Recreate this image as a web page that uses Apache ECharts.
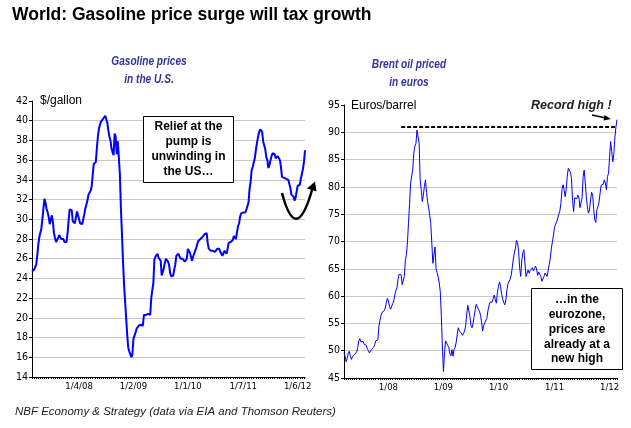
<!DOCTYPE html>
<html><head><meta charset="utf-8">
<script src="https://cdn.jsdelivr.net/npm/echarts@6/dist/echarts.min.js"></script>
<style>html,body{margin:0;padding:0;background:#fff}#c{width:631px;height:428px}</style>
</head><body><div id="c"></div>
<script>
const chartTitle = 'World: Gasoline price surge will tax growth';
const gasTitle = 'Gasoline prices\nin the U.S.';
const brentTitle = 'Brent oil priced\nin euros';
const gasUnit = '$/gallon';
const brentUnit = 'Euros/barrel';
const footerText = 'NBF Economy & Strategy (data via EIA and Thomson Reuters)';
const gasNote = 'Relief at the\npump is\nunwinding in\nthe US\u2026';
const brentNote = '\u2026in the\neurozone,\nprices are\nalready at a\nnew high';
const recordText = 'Record high !';

// Gasoline: weekly (Fridays) starting this date
const gasFirstWeek = '2007-02-23';
const gasValues = [24.7,24.8,24.9,25.1,25.4,26.3,27.4,28.2,28.3,29.1,
30.1,31.2,32.1,31.6,31.0,30.7,30.2,29.5,29.4,30.4,
29.7,28.6,28.1,27.7,27.6,28.1,28.4,28.3,28.0,28.2,
28.0,27.7,27.5,27.7,28.6,29.9,31.0,30.9,30.9,29.8,
29.6,29.6,30.2,30.8,30.7,30.0,29.6,29.5,29.5,29.6,
30.5,31.1,31.2,31.9,32.5,32.6,32.9,33.3,33.4,35.6,
35.7,35.8,37.2,38.4,39.2,39.6,39.9,40.1,40.2,40.4,
40.5,40.3,39.8,39.0,38.4,38.0,37.2,36.8,36.5,38.7,
38.4,36.6,37.9,36.3,34.6,31.1,28.5,25.8,23.4,21.7,
20.0,18.3,17.0,16.6,16.5,16.0,16.3,17.9,18.2,18.5,
18.9,19.1,19.2,19.1,19.3,19.2,19.2,20.3,20.4,20.3,
20.3,20.4,20.3,20.3,22.0,22.8,23.5,25.9,26.2,26.3,
26.5,26.1,25.9,25.8,24.3,24.5,25.0,25.6,26.0,25.9,
25.7,25.4,24.6,24.2,24.0,24.3,24.9,25.4,26.3,26.5,
26.5,26.3,26.0,26.0,26.0,26.0,25.7,25.7,26.0,27.0,
26.8,26.6,26.2,25.8,26.2,26.5,26.7,27.1,27.5,27.8,
27.9,28.0,28.0,28.2,28.4,28.5,28.7,28.6,27.6,27.0,
26.8,26.8,26.7,26.8,26.7,26.7,26.8,27.0,27.2,27.0,
26.7,26.6,26.3,26.5,26.8,26.6,26.5,27.0,27.6,27.7,
27.7,27.6,27.9,28.3,28.5,28.0,28.7,29.3,29.6,30.3,
30.6,30.6,30.7,30.7,30.7,31.0,31.2,31.7,33.1,33.8,
35.0,35.3,35.4,36.2,37.0,37.7,38.3,38.8,39.1,39.2,
38.9,37.9,37.7,37.1,36.3,36.0,35.2,35.5,36.0,36.4,
36.7,36.8,36.6,36.2,36.0,36.4,36.3,36.0,35.3,34.3,
34.1,34.2,34.2,34.1,34.0,34.0,34.0,33.2,32.5,32.3,
32.3,31.9,32.2,32.8,33.4,33.4,33.5,34.1,34.6,35.1,
35.8,37.0];
const gasTickLabels = ['1/4/08','1/2/09','1/1/10','1/7/11','1/6/12'];
const gasYTicks = {min: 14, max: 42, step: 2};

// Brent in euros: weekly (Fridays) starting this date
const brentFirstWeek = '2007-03-16';
const brentValues = [49.6,49.0,48.0,48.6,49.5,49.9,49.0,48.4,48.9,49.0,
49.3,49.5,49.8,50.6,51.8,52.2,51.6,51.4,51.7,51.2,
51.1,51.0,50.4,50.0,49.6,49.8,50.2,50.4,50.6,51.1,
51.8,52.0,52.0,54.5,55.5,56.5,57.0,57.2,57.3,57.8,
58.9,59.6,59.1,58.1,57.6,57.9,58.6,59.1,60.2,61.0,
61.5,63.0,64.0,64.1,63.9,62.1,61.8,63.6,66.5,67.6,
70.0,73.5,77.0,80.8,82.0,83.3,86.2,87.5,88.0,90.4,
90.7,88.0,81.3,79.5,77.3,78.5,80.1,81.3,79.0,77.3,
76.2,74.8,73.3,69.7,66.0,67.5,69.0,65.0,64.3,63.5,
62.4,60.8,56.3,50.5,46.2,49.6,51.8,51.5,51.0,50.6,
49.5,49.1,50.2,49.0,50.2,50.6,51.5,53.0,54.2,53.6,
53.6,53.2,52.8,53.2,53.6,54.6,56.7,58.3,58.2,56.3,
54.6,54.2,55.0,56.3,57.5,58.5,58.2,57.6,57.2,56.5,
55.3,53.6,54.6,55.1,55.1,55.9,57.3,58.2,58.9,59.1,
58.9,59.5,60.2,59.3,58.7,60.7,61.8,62.6,61.7,60.3,
59.5,58.8,58.4,59.3,61.2,62.3,62.5,63.1,63.8,65.2,
66.8,67.9,68.8,70.2,69.8,68.2,65.2,63.6,66.6,67.9,
68.5,68.5,63.6,63.5,64.8,64.2,64.7,64.6,65.2,64.6,
65.0,65.5,65.0,63.8,64.4,64.0,63.6,62.7,63.0,63.6,
64.2,64.5,63.6,64.8,65.8,67.0,68.8,70.0,71.2,72.6,
73.2,73.6,74.3,75.0,75.6,77.0,79.5,80.4,79.5,78.2,
79.5,82.0,83.4,83.5,82.7,81.5,77.5,75.5,78.0,78.1,
77.8,78.5,78.0,76.2,76.2,78.0,81.9,83.1,80.7,78.2,
76.4,75.2,75.8,77.6,79.0,78.5,75.8,74.0,73.5,75.8,
76.4,77.2,78.8,80.3,80.5,80.5,81.3,80.7,79.5,81.9,
82.5,85.5,88.3,86.5,84.6,86.0,89.0,91.0,92.3];
const brentTickDates = ['2008-01-04','2009-01-02','2010-01-01','2011-01-07','2012-01-06'];
const brentTickLabels = ['1/08','1/09','1/10','1/11','1/12'];
const brentYTicks = {min: 45, max: 95, step: 5};
const brentPrevRecord = 91;
const brentPrevRecordFrom = '2008-03-28';

function weekly(start, n, fmt) {
  const p = start.split('-').map(Number);
  const t0 = Date.UTC(p[0], p[1] - 1, p[2]);
  const out = [];
  for (let i = 0; i < n; i++) {
    const d = new Date(t0 + i * 7 * 86400000);
    const y = d.getUTCFullYear(), m = d.getUTCMonth() + 1, dd = d.getUTCDate();
    out.push(fmt === 'mdy' ? (m + '/' + dd + '/' + String(y).slice(2))
      : (y + '-' + String(m).padStart(2, '0') + '-' + String(dd).padStart(2, '0')));
  }
  return out;
}
const gasCats = weekly(gasFirstWeek, gasValues.length, 'mdy');
const brentCats = weekly(brentFirstWeek, brentValues.length, 'iso');

const NARROW = '"Liberation Sans Narrow","Arial Narrow","DejaVu Sans Condensed","Liberation Sans",sans-serif';
const SANS = '"Liberation Sans",Arial,sans-serif';
const BLUE = '#0000ff';

const chart = echarts.init(document.getElementById('c'), null, {renderer: 'canvas'});

function yAxis(gridIndex, t) {
  return {
    type: 'value', gridIndex, min: t.min, max: t.max, interval: t.step,
    axisLine: {show: true, lineStyle: {color: '#000', width: 1}},
    axisTick: {show: true, length: 3, lineStyle: {color: '#000'}},
    axisLabel: {color: '#000', fontFamily: NARROW, fontSize: 10.5, margin: 4},
    splitLine: {show: true, showMaxLine: false, showMinLine: false, lineStyle: {color: '#c8c8c8', width: 1}}
  };
}

const option = {
  animation: false,
  backgroundColor: '#fff',
  grid: [
    {left: 32, top: 101, right: 326, bottom: 51, containLabel: false},
    {left: 344, top: 105, right: 14, bottom: 50, containLabel: false}
  ],
  xAxis: [
    {
      type: 'category', gridIndex: 0, data: gasCats, boundaryGap: false,
      axisLine: {lineStyle: {color: '#000', width: 1}},
      axisTick: {show: true, interval: 1, length: 2, lineStyle: {color: '#000'}},
      axisLabel: {interval: (i, v) => gasTickLabels.includes(v), color: '#000', fontFamily: NARROW, fontSize: 9.5, margin: 5},
      splitLine: {show: false}
    },
    {
      type: 'category', gridIndex: 1, data: brentCats, boundaryGap: false,
      axisLine: {lineStyle: {color: '#000', width: 1}},
      axisTick: {show: true, interval: 1, length: 2, lineStyle: {color: '#000'}},
      axisLabel: {interval: (i, v) => brentTickDates.includes(v),
        formatter: v => brentTickLabels[brentTickDates.indexOf(v)] || '',
        color: '#000', fontFamily: NARROW, fontSize: 9.5, margin: 5},
      splitLine: {show: false}
    }
  ],
  yAxis: [yAxis(0, gasYTicks), yAxis(1, brentYTicks)],
  series: [
    {
      type: 'line', xAxisIndex: 0, yAxisIndex: 0, data: gasValues,
      showSymbol: false, symbol: 'none', lineStyle: {color: BLUE, width: 2}, silent: true
    },
    {
      type: 'line', xAxisIndex: 1, yAxisIndex: 1, data: brentValues,
      showSymbol: false, symbol: 'none', lineStyle: {color: BLUE, width: 1}, silent: true,
      markLine: {
        silent: true, symbol: 'none', label: {show: false},
        lineStyle: {color: '#000', type: [4, 2], width: 2},
        data: [[{coord: [brentPrevRecordFrom, brentPrevRecord]}, {coord: [brentCats[brentCats.length - 1], brentPrevRecord]}]]
      }
    }
  ],
  graphic: [
    {type: 'text', x: 12, y: 15, style: {text: chartTitle, font: 'bold 17.5px ' + SANS, fill: '#000', textVerticalAlign: 'middle'}},
    {type: 'text', x: 149, y: 70.5, scaleX: 0.75, style: {text: gasTitle, font: 'italic bold 13.5px ' + SANS, fill: '#333399', textAlign: 'center', textVerticalAlign: 'middle', lineHeight: 17.5}},
    {type: 'text', x: 409, y: 73, scaleX: 0.75, style: {text: brentTitle, font: 'italic bold 13.5px ' + SANS, fill: '#333399', textAlign: 'center', textVerticalAlign: 'middle', lineHeight: 18}},
    {type: 'text', x: 40, y: 100.5, style: {text: gasUnit, font: '12px ' + SANS, fill: '#000', textVerticalAlign: 'middle'}},
    {type: 'text', x: 351, y: 105.5, style: {text: brentUnit, font: '12px ' + SANS, fill: '#000', textVerticalAlign: 'middle'}},
    {type: 'text', x: 531, y: 105.5, style: {text: recordText, font: 'italic bold 12.5px ' + SANS, fill: '#222', textVerticalAlign: 'middle'}},
    {type: 'polyline', shape: {points: [[592, 115], [606, 118]]}, style: {stroke: '#000', lineWidth: 1.5, fill: null}, z: 100},
    {type: 'polygon', shape: {points: [[611, 119], [604.5, 115], [603.5, 120.5]]}, style: {fill: '#000'}, z: 100},
    {type: 'rect', shape: {x: 143.5, y: 116.5, width: 90, height: 66}, style: {fill: '#fff', stroke: '#000', lineWidth: 1}, z: 100},
    {type: 'text', x: 188.5, y: 149.5, z: 101, style: {text: gasNote, font: 'bold 12px ' + SANS, fill: '#000', textAlign: 'center', textVerticalAlign: 'middle', lineHeight: 15}},
    {type: 'rect', shape: {x: 531.5, y: 288.5, width: 91, height: 81}, style: {fill: '#fff', stroke: '#000', lineWidth: 1}, z: 100},
    {type: 'text', x: 577, y: 329.5, z: 101, style: {text: brentNote, font: 'bold 12px ' + SANS, fill: '#000', textAlign: 'center', textVerticalAlign: 'middle', lineHeight: 14.7}},
    {type: 'bezierCurve', shape: {x1: 282, y1: 193, x2: 312, y2: 190, cpx1: 296, cpy1: 246}, style: {stroke: '#000', lineWidth: 2.5, fill: null}, z: 100},
    {type: 'polygon', shape: {points: [[315, 181.5], [316.5, 191.5], [307, 188.5]]}, style: {fill: '#000'}, z: 100},
    {type: 'text', x: 15, y: 412, style: {text: footerText, font: 'italic 11.5px ' + SANS, fill: '#222', textVerticalAlign: 'middle'}}
  ]
};
chart.setOption(option);
</script>
</body></html>
